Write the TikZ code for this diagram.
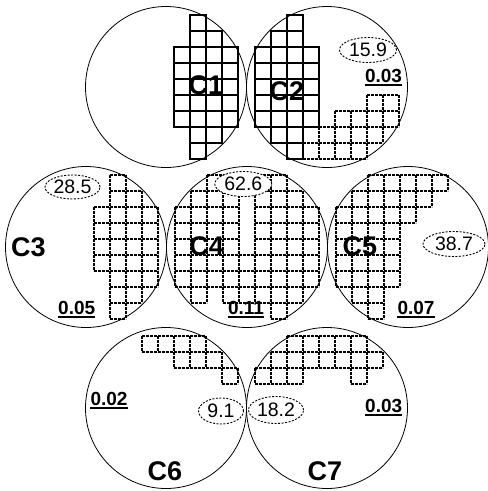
\documentclass[tikz,border=0pt]{standalone}
\usepackage{fontspec}
\setmainfont{Liberation Sans}
\usetikzlibrary{shapes.geometric}
% one die of the wafer map, in a scope centred on its wafer
\newcommand\solidrow[3]{\foreach \k in {#2,...,#3}{%
  \draw[solidcell] ({16*(\k)-8},{16*(#1)-8}) rectangle ++(16,16);}}
\newcommand\dashrow[3]{\foreach \k in {#2,...,#3}{%
  \draw[dashcell] ({16*(\k)-8},{16*(#1)-8}) -- ++(16,0)
                  ({16*(\k)-8},{16*(#1)+8}) -- ++(16,0)
                  ({16*(\k)-8},{16*(#1)-8}) -- ++(0,16)
                  ({16*(\k)+8},{16*(#1)-8}) -- ++(0,16);}}
\begin{document}
\begin{tikzpicture}[x=1pt,y=-1pt,
  wafer/.style={circle, draw, line width=0.8pt, minimum size=161pt, inner sep=0pt},
  solidcell/.style={draw, line width=1.2pt},
  dashcell/.style={draw, line width=1.2pt, dash pattern=on 2.7pt off 1.3pt},
  tag/.style={font=\bfseries\fontsize{27}{27}\selectfont, inner sep=0pt},
  yieldval/.style={font=\bfseries\fontsize{19}{19}\selectfont, inner sep=0pt},
  uline/.style={line width=1.8pt},
  pct/.style={ellipse, draw, fill=white, line width=0.9pt, dash pattern=on 2pt off 1.5pt,
              font=\fontsize{19.5}{19.5}\selectfont, inner sep=0pt, minimum width=57pt, minimum height=25pt}
]
\useasboundingbox (0,0) rectangle (488,491);

% ---- die grids ----
\begin{scope}[shift={(166,87)}]
  \solidrow{-4}{2}{2} \solidrow{-3}{2}{3}
  \foreach \r in {-2,...,2}{\solidrow{\r}{1}{4}}
  \solidrow{3}{2}{3} \solidrow{4}{2}{2}
\end{scope}

\begin{scope}[shift={(327,87)}]
  \dashrow{1}{3}{4} \dashrow{2}{1}{4} \dashrow{3}{-1}{3} \dashrow{4}{-1}{2}
  \solidrow{-4}{-2}{-2} \solidrow{-3}{-3}{-2}
  \foreach \r in {-2,...,2}{\solidrow{\r}{-4}{-1}}
  \solidrow{3}{-3}{-2} \solidrow{4}{-2}{-2}
\end{scope}

\begin{scope}[shift={(86,247)}]
  \dashrow{-4}{2}{2} \dashrow{-3}{2}{3}
  \foreach \r in {-2,...,1}{\dashrow{\r}{1}{4}}
  \dashrow{2}{2}{4} \dashrow{3}{2}{3} \dashrow{4}{2}{2}
\end{scope}

\begin{scope}[shift={(247,247)}]
  \dashrow{-4}{-2}{2}
  \dashrow{-3}{-3}{-1} \dashrow{-3}{1}{3}
  \foreach \r in {-2,...,0}{\dashrow{\r}{-4}{-1} \dashrow{\r}{1}{4}}
  \dashrow{1}{-4}{4} \dashrow{2}{-4}{4}
  \dashrow{3}{-3}{-3} \dashrow{3}{-1}{3}
  \dashrow{4}{2}{2}
\end{scope}

\begin{scope}[shift={(408,247)}]
  \dashrow{-4}{-2}{2} \dashrow{-3}{-3}{1} \dashrow{-2}{-4}{0}
  \foreach \r in {-1,...,2}{\dashrow{\r}{-4}{-1}}
  \dashrow{3}{-3}{-2} \dashrow{4}{-2}{-2}
\end{scope}

\begin{scope}[shift={(166,408)}]
  \dashrow{-4}{-1}{2} \dashrow{-3}{1}{3} \dashrow{-2}{4}{4}
\end{scope}

\begin{scope}[shift={(327,408)}]
  \dashrow{-4}{-2}{2} \dashrow{-3}{-3}{3}
  \dashrow{-2}{-4}{-2} \dashrow{-2}{2}{2}
\end{scope}

% ---- wafers ----
\node[wafer] (c1) at (166,87) {};
\node[wafer] (c2) at (327,87) {};
\node[wafer] (c3) at (86,247) {};
\node[wafer] (c4) at (247,247) {};
\node[wafer] (c5) at (408,247) {};
\node[wafer] (c6) at (166,408) {};
\node[wafer] (c7) at (327,408) {};

% ---- wafer names ----
\node[tag] (t1) at (206,85.5) {C1};
\node[tag] (t2) at (287,91) {C2};
\node[tag] (t3) at (28.3,247.3) {C3};
\node[tag] (t4) at (206.7,246) {C4};
\node[tag] (t5) at (360,246.5) {C5};
\node[tag] (t6) at (165,471) {C6};
\node[tag] (t7) at (325,471) {C7};

% ---- percentages ----
\node[pct] (p2) at (368,50) {15.9};
\node[pct, minimum width=55pt, minimum height=24pt] (p3) at (72.5,187) {28.5};
\node[pct] (p4) at (243.3,184) {62.6};
\node[pct, minimum width=62pt] (p5) at (454,244) {38.7};
\node[pct, minimum width=45pt, minimum height=26pt] (p6) at (221,411) {9.1};
\node[pct, minimum width=55pt, minimum height=27pt] (p7) at (276,410) {18.2};

% ---- underlined values ----
\node[yieldval] (v2) at (383.5,75.8) {0.03};
\node[yieldval] (v3) at (76.7,307.5) {0.05};
\node[yieldval] (v4) at (246,307.5) {0.11};
\node[yieldval] (v5) at (416,307.5) {0.07};
\node[yieldval] (v6) at (109,398.5) {0.02};
\node[yieldval] (v7) at (383.7,406) {0.03};
\foreach \v in {v2,v3,v4,v5,v6,v7}{
  \draw[uline] ([yshift=-2.4pt]\v.south west) -- ([yshift=-2.4pt]\v.south east);
}
\end{tikzpicture}
\end{document}
